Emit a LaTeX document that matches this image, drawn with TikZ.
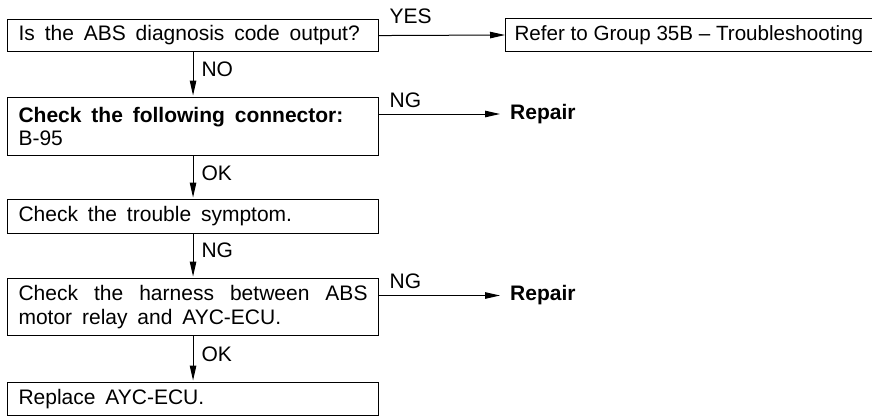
\documentclass[tikz,border=0pt]{standalone}
\usepackage{fontspec}
\setmainfont{Liberation Sans}
\usepackage{tikz}
\usetikzlibrary{positioning,calc}
\usetikzlibrary{arrows.meta}
\newcommand{\flowfont}{\fontsize{21}{23.5}\selectfont\spaceskip=0.47em plus 0.5em minus 0.05em\relax}
\tikzset{
  stepbox/.style={draw=black,line width=1.1pt,rectangle,inner xsep=11pt,inner ysep=2pt,
    text width=349pt,align=justify,font=\flowfont,anchor=north west},
  refbox/.style={draw=black,line width=1.1pt,rectangle,inner xsep=9pt,inner ysep=2pt,
    minimum height=33pt,font=\fontsize{20.6}{23}\selectfont,anchor=west},
  flow/.style={draw=black,line width=1pt,shorten >=1.5pt,-{Triangle[length=15pt,width=6.5pt]}},
}
\tikzset{lab/.style={inner sep=0pt,font=\fontsize{21}{23}\selectfont,anchor=base west}, fix/.style={inner xsep=10pt,inner ysep=2pt,font=\fontsize{21}{23}\selectfont\bfseries,anchor=west}}

\begin{document}
\begin{tikzpicture}[x=1pt,y=-1pt]
\useasboundingbox (0,0) rectangle (872,416);
\node[stepbox,minimum height=32pt] (q1) at (7,19) {Is the ABS diagnosis code output?};
\node[stepbox,minimum height=58pt] (q2) at (7,97) {\textbf{Check the following connector:}\\B-95};
\node[stepbox,minimum height=34pt] (q3) at (7,199) {Check the trouble symptom.};
\node[stepbox,minimum height=57pt] (q4) at (7,278) {Check the harness between ABS\linebreak motor relay and AYC-ECU.};
\node[stepbox,minimum height=33pt] (q5) at (7,382) {Replace AYC-ECU.};
\node[refbox] (ref) at (505,35) {Refer to Group 35B – Troubleshooting};
\node[fix] (fix1) at (500,114) {Repair};
\node[fix] (fix2) at (500,295.5) {Repair};
\coordinate (n1) at ($(q2.north east)+(0,17)$);
\coordinate (n2) at ($(q4.north east)+(0,17.5)$);
\draw[flow,shorten >=0pt] (q1.east) -- node[lab,pos=0,xshift=10pt,yshift=12pt] {YES} (ref.west);
\draw[flow,shorten >=0pt] (n1) -- node[lab,pos=0,xshift=10pt,yshift=7pt] {NG} (fix1.west);
\draw[flow,shorten >=0pt] (n2) -- node[lab,pos=0,xshift=10pt,yshift=7pt] {NG} (fix2.west);
\draw[flow] (q1.south) -- node[lab,pos=0,xshift=8pt,yshift=-24.5pt] {NO} (q2.north);
\draw[flow] (q2.south) -- node[lab,pos=0,xshift=8pt,yshift=-24.5pt] {OK} (q3.north);
\draw[flow] (q3.south) -- node[lab,pos=0,xshift=8pt,yshift=-23.5pt] {NG} (q4.north);
\draw[flow] (q4.south) -- node[lab,pos=0,xshift=8pt,yshift=-25.5pt] {OK} (q5.north);
\end{tikzpicture}
\end{document}
